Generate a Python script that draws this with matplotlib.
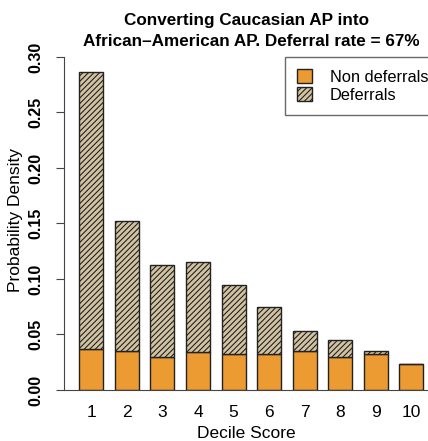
import numpy as np
import matplotlib
matplotlib.use("Agg")
import matplotlib.pyplot as plt

plt.rcParams['font.family'] = ['Liberation Sans', 'DejaVu Sans']
plt.rcParams['hatch.color'] = '#4a3e30'
plt.rcParams['hatch.linewidth'] = 0.8

deciles = np.arange(1, 11)
non_deferrals = [0.037, 0.035, 0.030, 0.034, 0.0327, 0.0327, 0.035, 0.030, 0.0327, 0.023]
totals = [0.2865, 0.152, 0.1126, 0.115, 0.0943, 0.075, 0.053, 0.0448, 0.0354, 0.023]
deferrals = [t - n for t, n in zip(totals, non_deferrals)]

orange = '#eb9b32'
tan = '#d2c3a2'

fig = plt.figure(figsize=(4.28, 4.41), dpi=100)
ax = fig.add_axes([64 / 428, 51 / 441, 1 - 64 / 428, 340 / 441])

w = 0.675
ax.bar(deciles, non_deferrals, width=w, color=orange, edgecolor='#222222', linewidth=1.0,
       label='Non deferrals')
ax.bar(deciles, deferrals, width=w, bottom=non_deferrals, color=tan, edgecolor='#222222',
       linewidth=1.0, hatch='//////', label='Deferrals')

ax.set_xlim(0.232, 10.47)
ax.set_ylim(0, 0.3063)
ax.spines['top'].set_visible(False)
ax.spines['right'].set_visible(False)
ax.spines['left'].set_bounds(0, 0.30)
ax.spines['left'].set_color('#444444')
ax.spines['bottom'].set_color('#444444')
ax.set_yticks(np.arange(0, 0.31, 0.05))
ax.set_yticklabels(['%.2f' % v for v in np.arange(0, 0.31, 0.05)], rotation=90,
                   va='center', fontsize=11.5, fontweight='bold')
ax.set_xticks(deciles)
ax.set_xticklabels([str(d) for d in deciles], fontsize=12.5)
ax.tick_params(axis='x', length=0, pad=11)
ax.tick_params(axis='y', length=6, pad=9, color='#444444')
ax.set_xlabel('Decile Score', fontsize=12.5, labelpad=4)
ax.set_ylabel('Probability Density', fontsize=12.5, labelpad=4)

fig.text(246 / 428, 1 - 20 / 441, 'Converting Caucasian AP into', ha='center', va='center',
         fontsize=12.3, fontweight='bold')
fig.text(251 / 428, 1 - 42 / 441, 'African\u2013American AP. Deferral rate = 67%', ha='center',
         va='center', fontsize=12.3, fontweight='bold')

leg = fig.legend(loc='upper left', bbox_to_anchor=(285 / 428, 1 - 57 / 441), fontsize=11.8,
                 fancybox=False, edgecolor='#444444', handlelength=0.9, handleheight=0.9,
                 handletextpad=1.1, borderpad=0.75, labelspacing=0.15, borderaxespad=0)
leg.get_frame().set_linewidth(1.0)

fig.savefig('out.png', dpi=100)
